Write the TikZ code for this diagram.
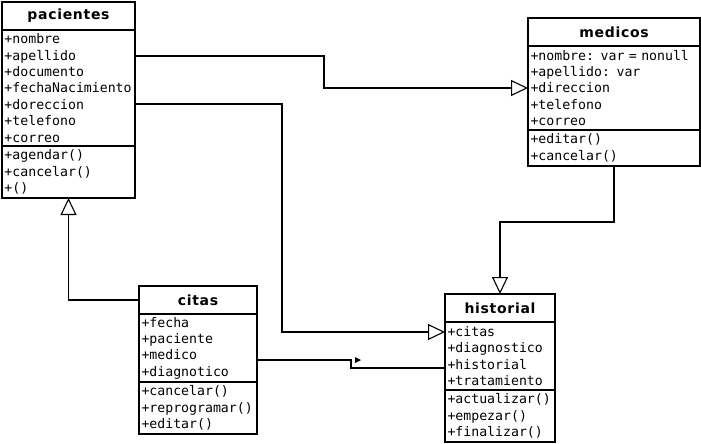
\documentclass[tikz,border=0pt]{standalone}
\usepackage{fontspec}
\usetikzlibrary{positioning, arrows.meta}
\newfontfamily\titlefont[LetterSpace=5]{DejaVu Sans}
\newfontfamily\attrfont{DejaVu Sans Mono}

\tikzset{
	umltitle/.style={draw, line width=1.1pt, inner sep=0pt, outer sep=0pt, minimum height=28pt,
		font=\titlefont\bfseries\fontsize{14}{16}\selectfont},
	umlbody/.style={draw, line width=1.1pt, inner xsep=2.5pt, inner ysep=1pt, outer sep=0pt,
		align=left, font=\attrfont\fontsize{13.2}{16.4}\selectfont},
	inherit/.style={line width=1.1pt, -{Triangle[length=17pt, width=16pt, fill=white]}},
	assoc/.style={line width=1.1pt},
}

\begin{document}
\begin{tikzpicture}[x=1pt, y=-1pt]
	\useasboundingbox (0, 0) rectangle (701, 444);

	% pacientes
	\node[umltitle, anchor=north west, minimum width=133pt] (pac) at (2, 2) {pacientes};
	\node[umlbody, below=0pt of pac, minimum height=116pt, text width=128pt] (pacattr)
		{+nombre\\+apellido\\+documento\\+fechaNacimiento\\+doreccion\\+telefono\\+correo};
	\node[umlbody, below=0pt of pacattr, minimum height=52pt, text width=128pt] (pacmeth)
		{+agendar()\\+cancelar()\\+()};

	% medicos
	\node[umltitle, anchor=north west, minimum width=172pt] (med) at (528, 18) {medicos};
	\node[umlbody, below=0pt of med, minimum height=84pt, text width=167pt] (medattr)
		{+nombre: var = nonull\\+apellido: var\\+direccion\\+telefono\\+correo};
	\node[umlbody, below=0pt of medattr, minimum height=36pt, text width=167pt] (medmeth)
		{+editar()\\+cancelar()};

	% citas
	\node[umltitle, anchor=north west, minimum width=118pt] (cit) at (139, 286) {citas};
	\node[umlbody, below=0pt of cit, minimum height=68pt, text width=113pt] (citattr)
		{+fecha\\+paciente\\+medico\\+diagnotico};
	\node[umlbody, below=0pt of citattr, minimum height=52pt, text width=113pt] (citmeth)
		{+cancelar()\\+reprogramar()\\+editar()};

	% historial
	\node[umltitle, anchor=north west, minimum width=110pt] (his) at (445, 294) {historial};
	\node[umlbody, below=0pt of his, minimum height=68pt, text width=105pt] (hisattr)
		{+citas\\+diagnostico\\+historial\\+tratamiento};
	\node[umlbody, below=0pt of hisattr, minimum height=52pt, text width=105pt] (hismeth)
		{+actualizar()\\+empezar()\\+finalizar()};

	% connectors
	\draw[inherit] ([yshift=-26pt]pacattr.north east) -- ++(189, 0)
		|- ([yshift=-42pt]medattr.north west);
	\draw[inherit] ([yshift=-74pt]pacattr.north east) -- ++(147, 0)
		|- ([yshift=-10pt]hisattr.north west);
	\draw[inherit] (medmeth.south) -- ++(0, 56) -| (his.north);
	\draw[inherit] (cit.west) -| (pacmeth.south);
	\draw[assoc] ([yshift=-46pt]citattr.north east) -- ++(94, 0)
		|- ([yshift=-46pt]hisattr.north west);

	\coordinate (tip) at ([xshift=98pt, yshift=-43pt]citattr.north east);
	\fill (tip) -- ++(6, 3) -- ++(-6, 3) -- cycle;
\end{tikzpicture}
\end{document}
